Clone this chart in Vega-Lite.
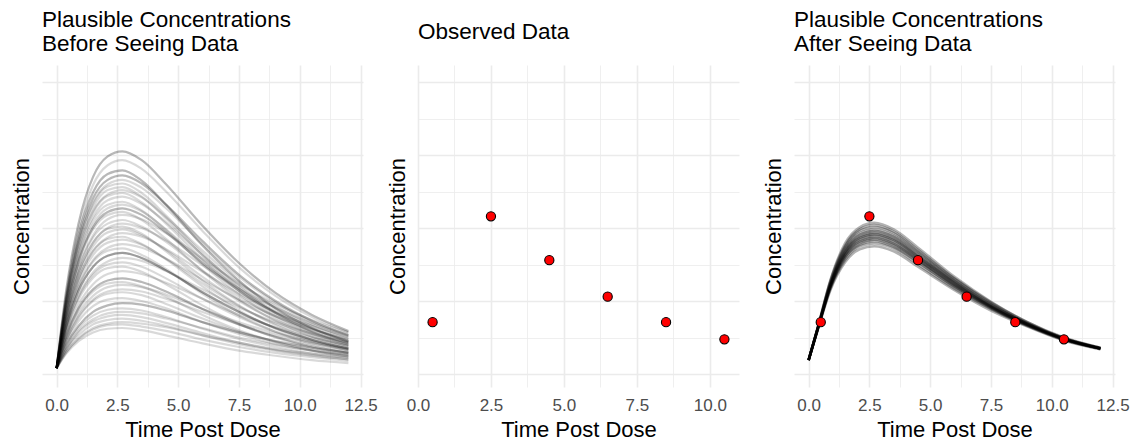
{
"$schema": "https://vega.github.io/schema/vega-lite/v6.json",
"autosize": {"type": "pad"},
"padding": {"left": 10, "top": 9, "right": 0, "bottom": 0},
"bounds": "flush",
"spacing": 55,
"config": {
  "font": "Liberation Sans",
  "view": {"stroke": null},
  "axis": {"domain": false, "ticks": false, "labelFontSize": 17, "labelColor": "#4D4D4D", "labelPadding": 10, "labelFlush": false, "labelOverlap": false, "titleFontSize": 22, "titleFontWeight": "normal", "titleColor": "#000000", "gridColor": "#EBEBEB"},
  "axisY": {"labels": false, "titlePadding": 9},
  "axisX": {"titlePadding": 6},
  "title": {"fontSize": 22.5, "fontWeight": "normal", "anchor": "start", "frame": "group", "color": "#000000", "lineHeight": 23.5}
},
"datasets": {
"prior": [
{"id":"a1","t":0,"c":0.08},{"id":"a1","t":0.4,"c":1.16},{"id":"a1","t":0.9,"c":2.06},{"id":"a1","t":1.5,"c":2.70},{"id":"a1","t":2.1,"c":2.98},{"id":"a1","t":2.7,"c":3.05},{"id":"a1","t":3.5,"c":2.93},{"id":"a1","t":4.5,"c":2.60},{"id":"a1","t":6,"c":2.03},{"id":"a1","t":7.5,"c":1.52},{"id":"a1","t":9,"c":1.11},{"id":"a1","t":10.5,"c":0.81},{"id":"a1","t":12,"c":0.59},
{"id":"a1b","t":0,"c":0.08},{"id":"a1b","t":0.4,"c":1.16},{"id":"a1b","t":0.9,"c":2.06},{"id":"a1b","t":1.5,"c":2.70},{"id":"a1b","t":2.1,"c":2.98},{"id":"a1b","t":2.7,"c":3.05},{"id":"a1b","t":3.5,"c":2.93},{"id":"a1b","t":4.5,"c":2.60},{"id":"a1b","t":6,"c":2.03},{"id":"a1b","t":7.5,"c":1.52},{"id":"a1b","t":9,"c":1.11},{"id":"a1b","t":10.5,"c":0.81},{"id":"a1b","t":12,"c":0.59},
{"id":"n1","t":0,"c":0.08},{"id":"n1","t":0.4,"c":1.11},{"id":"n1","t":0.9,"c":1.98},{"id":"n1","t":1.5,"c":2.59},{"id":"n1","t":2.1,"c":2.86},{"id":"n1","t":2.7,"c":2.93},{"id":"n1","t":3.5,"c":2.81},{"id":"n1","t":4.5,"c":2.50},{"id":"n1","t":6,"c":1.96},{"id":"n1","t":7.5,"c":1.46},{"id":"n1","t":9,"c":1.07},{"id":"n1","t":10.5,"c":0.78},{"id":"n1","t":12,"c":0.57},
{"id":"a2","t":0,"c":0.08},{"id":"a2","t":0.4,"c":1.07},{"id":"a2","t":0.9,"c":1.91},{"id":"a2","t":1.5,"c":2.49},{"id":"a2","t":2.1,"c":2.74},{"id":"a2","t":2.7,"c":2.79},{"id":"a2","t":3.5,"c":2.65},{"id":"a2","t":4.5,"c":2.32},{"id":"a2","t":6,"c":1.76},{"id":"a2","t":7.5,"c":1.28},{"id":"a2","t":9,"c":0.90},{"id":"a2","t":10.5,"c":0.63},{"id":"a2","t":12,"c":0.44},
{"id":"a2b","t":0,"c":0.08},{"id":"a2b","t":0.4,"c":1.07},{"id":"a2b","t":0.9,"c":1.91},{"id":"a2b","t":1.5,"c":2.49},{"id":"a2b","t":2.1,"c":2.74},{"id":"a2b","t":2.7,"c":2.79},{"id":"a2b","t":3.5,"c":2.65},{"id":"a2b","t":4.5,"c":2.32},{"id":"a2b","t":6,"c":1.76},{"id":"a2b","t":7.5,"c":1.28},{"id":"a2b","t":9,"c":0.90},{"id":"a2b","t":10.5,"c":0.63},{"id":"a2b","t":12,"c":0.44},
{"id":"a3","t":0,"c":0.08},{"id":"a3","t":0.4,"c":1.04},{"id":"a3","t":0.9,"c":1.84},{"id":"a3","t":1.5,"c":2.41},{"id":"a3","t":2.1,"c":2.66},{"id":"a3","t":2.7,"c":2.72},{"id":"a3","t":3.5,"c":2.61},{"id":"a3","t":4.5,"c":2.32},{"id":"a3","t":6,"c":1.82},{"id":"a3","t":7.5,"c":1.36},{"id":"a3","t":9,"c":1.00},{"id":"a3","t":10.5,"c":0.73},{"id":"a3","t":12,"c":0.53},
{"id":"a3b","t":0,"c":0.08},{"id":"a3b","t":0.4,"c":1.04},{"id":"a3b","t":0.9,"c":1.84},{"id":"a3b","t":1.5,"c":2.41},{"id":"a3b","t":2.1,"c":2.66},{"id":"a3b","t":2.7,"c":2.72},{"id":"a3b","t":3.5,"c":2.61},{"id":"a3b","t":4.5,"c":2.32},{"id":"a3b","t":6,"c":1.82},{"id":"a3b","t":7.5,"c":1.36},{"id":"a3b","t":9,"c":1.00},{"id":"a3b","t":10.5,"c":0.73},{"id":"a3b","t":12,"c":0.53},
{"id":"n2","t":0,"c":0.08},{"id":"n2","t":0.4,"c":1.01},{"id":"n2","t":0.9,"c":1.80},{"id":"n2","t":1.5,"c":2.35},{"id":"n2","t":2.1,"c":2.60},{"id":"n2","t":2.7,"c":2.66},{"id":"n2","t":3.5,"c":2.55},{"id":"n2","t":4.5,"c":2.27},{"id":"n2","t":6,"c":1.78},{"id":"n2","t":7.5,"c":1.33},{"id":"n2","t":9,"c":0.98},{"id":"n2","t":10.5,"c":0.71},{"id":"n2","t":12,"c":0.52},
{"id":"a4","t":0,"c":0.08},{"id":"a4","t":0.4,"c":1.01},{"id":"a4","t":0.9,"c":1.79},{"id":"a4","t":1.5,"c":2.33},{"id":"a4","t":2.1,"c":2.57},{"id":"a4","t":2.7,"c":2.61},{"id":"a4","t":3.5,"c":2.48},{"id":"a4","t":4.5,"c":2.17},{"id":"a4","t":6,"c":1.65},{"id":"a4","t":7.5,"c":1.20},{"id":"a4","t":9,"c":0.84},{"id":"a4","t":10.5,"c":0.59},{"id":"a4","t":12,"c":0.42},
{"id":"n3","t":0,"c":0.08},{"id":"n3","t":0.4,"c":0.99},{"id":"n3","t":0.9,"c":1.76},{"id":"n3","t":1.5,"c":2.28},{"id":"n3","t":2.1,"c":2.52},{"id":"n3","t":2.7,"c":2.56},{"id":"n3","t":3.5,"c":2.43},{"id":"n3","t":4.5,"c":2.13},{"id":"n3","t":6,"c":1.62},{"id":"n3","t":7.5,"c":1.17},{"id":"n3","t":9,"c":0.83},{"id":"n3","t":10.5,"c":0.58},{"id":"n3","t":12,"c":0.41},
{"id":"a5","t":0,"c":0.08},{"id":"a5","t":0.4,"c":0.96},{"id":"a5","t":0.9,"c":1.71},{"id":"a5","t":1.5,"c":2.23},{"id":"a5","t":2.1,"c":2.46},{"id":"a5","t":2.7,"c":2.52},{"id":"a5","t":3.5,"c":2.42},{"id":"a5","t":4.5,"c":2.15},{"id":"a5","t":6,"c":1.69},{"id":"a5","t":7.5,"c":1.26},{"id":"a5","t":9,"c":0.93},{"id":"a5","t":10.5,"c":0.68},{"id":"a5","t":12,"c":0.50},
{"id":"n4","t":0,"c":0.08},{"id":"n4","t":0.4,"c":0.96},{"id":"n4","t":0.9,"c":1.70},{"id":"n4","t":1.5,"c":2.21},{"id":"n4","t":2.1,"c":2.44},{"id":"n4","t":2.7,"c":2.48},{"id":"n4","t":3.5,"c":2.35},{"id":"n4","t":4.5,"c":2.06},{"id":"n4","t":6,"c":1.57},{"id":"n4","t":7.5,"c":1.14},{"id":"n4","t":9,"c":0.80},{"id":"n4","t":10.5,"c":0.57},{"id":"n4","t":12,"c":0.40},
{"id":"a6","t":0,"c":0.08},{"id":"a6","t":0.4,"c":0.93},{"id":"a6","t":0.9,"c":1.65},{"id":"a6","t":1.5,"c":2.15},{"id":"a6","t":2.1,"c":2.38},{"id":"a6","t":2.7,"c":2.43},{"id":"a6","t":3.5,"c":2.33},{"id":"a6","t":4.5,"c":2.08},{"id":"a6","t":6,"c":1.63},{"id":"a6","t":7.5,"c":1.22},{"id":"a6","t":9,"c":0.90},{"id":"a6","t":10.5,"c":0.66},{"id":"a6","t":12,"c":0.48},
{"id":"a7","t":0,"c":0.08},{"id":"a7","t":0.4,"c":0.92},{"id":"a7","t":0.9,"c":1.62},{"id":"a7","t":1.5,"c":2.11},{"id":"a7","t":2.1,"c":2.32},{"id":"a7","t":2.7,"c":2.36},{"id":"a7","t":3.5,"c":2.24},{"id":"a7","t":4.5,"c":1.97},{"id":"a7","t":6,"c":1.50},{"id":"a7","t":7.5,"c":1.09},{"id":"a7","t":9,"c":0.77},{"id":"a7","t":10.5,"c":0.54},{"id":"a7","t":12,"c":0.38},
{"id":"n5","t":0,"c":0.08},{"id":"n5","t":0.4,"c":0.89},{"id":"n5","t":0.9,"c":1.58},{"id":"n5","t":1.5,"c":2.05},{"id":"n5","t":2.1,"c":2.27},{"id":"n5","t":2.7,"c":2.32},{"id":"n5","t":3.5,"c":2.23},{"id":"n5","t":4.5,"c":1.98},{"id":"n5","t":6,"c":1.55},{"id":"n5","t":7.5,"c":1.17},{"id":"n5","t":9,"c":0.86},{"id":"n5","t":10.5,"c":0.63},{"id":"n5","t":12,"c":0.46},
{"id":"a8","t":0,"c":0.08},{"id":"a8","t":0.4,"c":0.87},{"id":"a8","t":0.9,"c":1.54},{"id":"a8","t":1.5,"c":2.01},{"id":"a8","t":2.1,"c":2.22},{"id":"a8","t":2.7,"c":2.27},{"id":"a8","t":3.5,"c":2.18},{"id":"a8","t":4.5,"c":1.94},{"id":"a8","t":6,"c":1.52},{"id":"a8","t":7.5,"c":1.14},{"id":"a8","t":9,"c":0.84},{"id":"a8","t":10.5,"c":0.62},{"id":"a8","t":12,"c":0.45},
{"id":"a8b","t":0,"c":0.08},{"id":"a8b","t":0.4,"c":0.87},{"id":"a8b","t":0.9,"c":1.54},{"id":"a8b","t":1.5,"c":2.01},{"id":"a8b","t":2.1,"c":2.22},{"id":"a8b","t":2.7,"c":2.27},{"id":"a8b","t":3.5,"c":2.18},{"id":"a8b","t":4.5,"c":1.94},{"id":"a8b","t":6,"c":1.52},{"id":"a8b","t":7.5,"c":1.14},{"id":"a8b","t":9,"c":0.84},{"id":"a8b","t":10.5,"c":0.62},{"id":"a8b","t":12,"c":0.45},
{"id":"n6","t":0,"c":0.08},{"id":"n6","t":0.4,"c":0.87},{"id":"n6","t":0.9,"c":1.53},{"id":"n6","t":1.5,"c":1.98},{"id":"n6","t":2.1,"c":2.18},{"id":"n6","t":2.7,"c":2.22},{"id":"n6","t":3.5,"c":2.11},{"id":"n6","t":4.5,"c":1.85},{"id":"n6","t":6,"c":1.41},{"id":"n6","t":7.5,"c":1.02},{"id":"n6","t":9,"c":0.73},{"id":"n6","t":10.5,"c":0.51},{"id":"n6","t":12,"c":0.36},
{"id":"a9","t":0,"c":0.08},{"id":"a9","t":0.4,"c":0.83},{"id":"a9","t":0.9,"c":1.46},{"id":"a9","t":1.5,"c":1.90},{"id":"a9","t":2.1,"c":2.12},{"id":"a9","t":2.7,"c":2.18},{"id":"a9","t":3.5,"c":2.12},{"id":"a9","t":4.5,"c":1.93},{"id":"a9","t":6,"c":1.58},{"id":"a9","t":7.5,"c":1.24},{"id":"a9","t":9,"c":0.96},{"id":"a9","t":10.5,"c":0.74},{"id":"a9","t":12,"c":0.57},
{"id":"a10","t":0,"c":0.08},{"id":"a10","t":0.4,"c":0.81},{"id":"a10","t":0.9,"c":1.44},{"id":"a10","t":1.5,"c":1.87},{"id":"a10","t":2.1,"c":2.06},{"id":"a10","t":2.7,"c":2.11},{"id":"a10","t":3.5,"c":2.02},{"id":"a10","t":4.5,"c":1.81},{"id":"a10","t":6,"c":1.42},{"id":"a10","t":7.5,"c":1.06},{"id":"a10","t":9,"c":0.79},{"id":"a10","t":10.5,"c":0.58},{"id":"a10","t":12,"c":0.43},
{"id":"n7","t":0,"c":0.08},{"id":"n7","t":0.4,"c":0.78},{"id":"n7","t":0.9,"c":1.38},{"id":"n7","t":1.5,"c":1.80},{"id":"n7","t":2.1,"c":2.00},{"id":"n7","t":2.7,"c":2.06},{"id":"n7","t":3.5,"c":2.00},{"id":"n7","t":4.5,"c":1.83},{"id":"n7","t":6,"c":1.49},{"id":"n7","t":7.5,"c":1.17},{"id":"n7","t":9,"c":0.91},{"id":"n7","t":10.5,"c":0.70},{"id":"n7","t":12,"c":0.54},
{"id":"a11","t":0,"c":0.08},{"id":"a11","t":0.4,"c":0.79},{"id":"a11","t":0.9,"c":1.39},{"id":"a11","t":1.5,"c":1.80},{"id":"a11","t":2.1,"c":1.99},{"id":"a11","t":2.7,"c":2.02},{"id":"a11","t":3.5,"c":1.92},{"id":"a11","t":4.5,"c":1.68},{"id":"a11","t":6,"c":1.28},{"id":"a11","t":7.5,"c":0.94},{"id":"a11","t":9,"c":0.67},{"id":"a11","t":10.5,"c":0.47},{"id":"a11","t":12,"c":0.34},
{"id":"n8","t":0,"c":0.08},{"id":"n8","t":0.4,"c":0.77},{"id":"n8","t":0.9,"c":1.35},{"id":"n8","t":1.5,"c":1.75},{"id":"n8","t":2.1,"c":1.94},{"id":"n8","t":2.7,"c":1.98},{"id":"n8","t":3.5,"c":1.90},{"id":"n8","t":4.5,"c":1.70},{"id":"n8","t":6,"c":1.33},{"id":"n8","t":7.5,"c":1.00},{"id":"n8","t":9,"c":0.74},{"id":"n8","t":10.5,"c":0.55},{"id":"n8","t":12,"c":0.40},
{"id":"a12","t":0,"c":0.08},{"id":"a12","t":0.4,"c":0.74},{"id":"a12","t":0.9,"c":1.29},{"id":"a12","t":1.5,"c":1.69},{"id":"a12","t":2.1,"c":1.87},{"id":"a12","t":2.7,"c":1.93},{"id":"a12","t":3.5,"c":1.88},{"id":"a12","t":4.5,"c":1.71},{"id":"a12","t":6,"c":1.40},{"id":"a12","t":7.5,"c":1.10},{"id":"a12","t":9,"c":0.85},{"id":"a12","t":10.5,"c":0.66},{"id":"a12","t":12,"c":0.51},
{"id":"n9","t":0,"c":0.08},{"id":"n9","t":0.4,"c":0.74},{"id":"n9","t":0.9,"c":1.30},{"id":"n9","t":1.5,"c":1.68},{"id":"n9","t":2.1,"c":1.85},{"id":"n9","t":2.7,"c":1.88},{"id":"n9","t":3.5,"c":1.78},{"id":"n9","t":4.5,"c":1.57},{"id":"n9","t":6,"c":1.20},{"id":"n9","t":7.5,"c":0.87},{"id":"n9","t":9,"c":0.62},{"id":"n9","t":10.5,"c":0.45},{"id":"n9","t":12,"c":0.32},
{"id":"a13","t":0,"c":0.08},{"id":"a13","t":0.4,"c":0.72},{"id":"a13","t":0.9,"c":1.26},{"id":"a13","t":1.5,"c":1.63},{"id":"a13","t":2.1,"c":1.80},{"id":"a13","t":2.7,"c":1.84},{"id":"a13","t":3.5,"c":1.77},{"id":"a13","t":4.5,"c":1.58},{"id":"a13","t":6,"c":1.24},{"id":"a13","t":7.5,"c":0.93},{"id":"a13","t":9,"c":0.69},{"id":"a13","t":10.5,"c":0.51},{"id":"a13","t":12,"c":0.38},
{"id":"n10","t":0,"c":0.08},{"id":"n10","t":0.4,"c":0.68},{"id":"n10","t":0.9,"c":1.20},{"id":"n10","t":1.5,"c":1.56},{"id":"n10","t":2.1,"c":1.73},{"id":"n10","t":2.7,"c":1.78},{"id":"n10","t":3.5,"c":1.73},{"id":"n10","t":4.5,"c":1.58},{"id":"n10","t":6,"c":1.29},{"id":"n10","t":7.5,"c":1.02},{"id":"n10","t":9,"c":0.79},{"id":"n10","t":10.5,"c":0.61},{"id":"n10","t":12,"c":0.48},
{"id":"n11","t":0,"c":0.08},{"id":"n11","t":0.4,"c":0.68},{"id":"n11","t":0.9,"c":1.19},{"id":"n11","t":1.5,"c":1.54},{"id":"n11","t":2.1,"c":1.69},{"id":"n11","t":2.7,"c":1.72},{"id":"n11","t":3.5,"c":1.63},{"id":"n11","t":4.5,"c":1.44},{"id":"n11","t":6,"c":1.10},{"id":"n11","t":7.5,"c":0.80},{"id":"n11","t":9,"c":0.58},{"id":"n11","t":10.5,"c":0.41},{"id":"n11","t":12,"c":0.30},
{"id":"a14","t":0,"c":0.08},{"id":"a14","t":0.4,"c":0.65},{"id":"a14","t":0.9,"c":1.14},{"id":"a14","t":1.5,"c":1.47},{"id":"a14","t":2.1,"c":1.62},{"id":"a14","t":2.7,"c":1.66},{"id":"a14","t":3.5,"c":1.59},{"id":"a14","t":4.5,"c":1.42},{"id":"a14","t":6,"c":1.12},{"id":"a14","t":7.5,"c":0.85},{"id":"a14","t":9,"c":0.63},{"id":"a14","t":10.5,"c":0.47},{"id":"a14","t":12,"c":0.35},
{"id":"a14b","t":0,"c":0.08},{"id":"a14b","t":0.4,"c":0.65},{"id":"a14b","t":0.9,"c":1.14},{"id":"a14b","t":1.5,"c":1.47},{"id":"a14b","t":2.1,"c":1.62},{"id":"a14b","t":2.7,"c":1.66},{"id":"a14b","t":3.5,"c":1.59},{"id":"a14b","t":4.5,"c":1.42},{"id":"a14b","t":6,"c":1.12},{"id":"a14b","t":7.5,"c":0.85},{"id":"a14b","t":9,"c":0.63},{"id":"a14b","t":10.5,"c":0.47},{"id":"a14b","t":12,"c":0.35},
{"id":"a14c","t":0,"c":0.08},{"id":"a14c","t":0.4,"c":0.65},{"id":"a14c","t":0.9,"c":1.14},{"id":"a14c","t":1.5,"c":1.47},{"id":"a14c","t":2.1,"c":1.62},{"id":"a14c","t":2.7,"c":1.66},{"id":"a14c","t":3.5,"c":1.59},{"id":"a14c","t":4.5,"c":1.42},{"id":"a14c","t":6,"c":1.12},{"id":"a14c","t":7.5,"c":0.85},{"id":"a14c","t":9,"c":0.63},{"id":"a14c","t":10.5,"c":0.47},{"id":"a14c","t":12,"c":0.35},
{"id":"a15","t":0,"c":0.08},{"id":"a15","t":0.4,"c":0.62},{"id":"a15","t":0.9,"c":1.07},{"id":"a15","t":1.5,"c":1.39},{"id":"a15","t":2.1,"c":1.54},{"id":"a15","t":2.7,"c":1.59},{"id":"a15","t":3.5,"c":1.55},{"id":"a15","t":4.5,"c":1.41},{"id":"a15","t":6,"c":1.16},{"id":"a15","t":7.5,"c":0.91},{"id":"a15","t":9,"c":0.71},{"id":"a15","t":10.5,"c":0.55},{"id":"a15","t":12,"c":0.43},
{"id":"n12","t":0,"c":0.08},{"id":"n12","t":0.4,"c":0.60},{"id":"n12","t":0.9,"c":1.05},{"id":"n12","t":1.5,"c":1.36},{"id":"n12","t":2.1,"c":1.50},{"id":"n12","t":2.7,"c":1.53},{"id":"n12","t":3.5,"c":1.47},{"id":"n12","t":4.5,"c":1.31},{"id":"n12","t":6,"c":1.03},{"id":"n12","t":7.5,"c":0.78},{"id":"n12","t":9,"c":0.58},{"id":"n12","t":10.5,"c":0.44},{"id":"n12","t":12,"c":0.33},
{"id":"a16","t":0,"c":0.08},{"id":"a16","t":0.4,"c":0.59},{"id":"a16","t":0.9,"c":1.02},{"id":"a16","t":1.5,"c":1.32},{"id":"a16","t":2.1,"c":1.45},{"id":"a16","t":2.7,"c":1.47},{"id":"a16","t":3.5,"c":1.40},{"id":"a16","t":4.5,"c":1.23},{"id":"a16","t":6,"c":0.94},{"id":"a16","t":7.5,"c":0.69},{"id":"a16","t":9,"c":0.50},{"id":"a16","t":10.5,"c":0.36},{"id":"a16","t":12,"c":0.27},
{"id":"n13","t":0,"c":0.08},{"id":"n13","t":0.4,"c":0.55},{"id":"n13","t":0.9,"c":0.95},{"id":"n13","t":1.5,"c":1.23},{"id":"n13","t":2.1,"c":1.37},{"id":"n13","t":2.7,"c":1.41},{"id":"n13","t":3.5,"c":1.37},{"id":"n13","t":4.5,"c":1.25},{"id":"n13","t":6,"c":1.03},{"id":"n13","t":7.5,"c":0.81},{"id":"n13","t":9,"c":0.64},{"id":"n13","t":10.5,"c":0.50},{"id":"n13","t":12,"c":0.39},
{"id":"a17","t":0,"c":0.08},{"id":"a17","t":0.4,"c":0.53},{"id":"a17","t":0.9,"c":0.90},{"id":"a17","t":1.5,"c":1.16},{"id":"a17","t":2.1,"c":1.28},{"id":"a17","t":2.7,"c":1.31},{"id":"a17","t":3.5,"c":1.26},{"id":"a17","t":4.5,"c":1.13},{"id":"a17","t":6,"c":0.89},{"id":"a17","t":7.5,"c":0.68},{"id":"a17","t":9,"c":0.51},{"id":"a17","t":10.5,"c":0.38},{"id":"a17","t":12,"c":0.29},
{"id":"a17b","t":0,"c":0.08},{"id":"a17b","t":0.4,"c":0.53},{"id":"a17b","t":0.9,"c":0.90},{"id":"a17b","t":1.5,"c":1.16},{"id":"a17b","t":2.1,"c":1.28},{"id":"a17b","t":2.7,"c":1.31},{"id":"a17b","t":3.5,"c":1.26},{"id":"a17b","t":4.5,"c":1.13},{"id":"a17b","t":6,"c":0.89},{"id":"a17b","t":7.5,"c":0.68},{"id":"a17b","t":9,"c":0.51},{"id":"a17b","t":10.5,"c":0.38},{"id":"a17b","t":12,"c":0.29},
{"id":"n14","t":0,"c":0.08},{"id":"n14","t":0.4,"c":0.51},{"id":"n14","t":0.9,"c":0.88},{"id":"n14","t":1.5,"c":1.13},{"id":"n14","t":2.1,"c":1.24},{"id":"n14","t":2.7,"c":1.26},{"id":"n14","t":3.5,"c":1.20},{"id":"n14","t":4.5,"c":1.06},{"id":"n14","t":6,"c":0.81},{"id":"n14","t":7.5,"c":0.60},{"id":"n14","t":9,"c":0.44},{"id":"n14","t":10.5,"c":0.32},{"id":"n14","t":12,"c":0.24},
{"id":"a18","t":0,"c":0.08},{"id":"a18","t":0.4,"c":0.48},{"id":"a18","t":0.9,"c":0.83},{"id":"a18","t":1.5,"c":1.07},{"id":"a18","t":2.1,"c":1.19},{"id":"a18","t":2.7,"c":1.22},{"id":"a18","t":3.5,"c":1.19},{"id":"a18","t":4.5,"c":1.09},{"id":"a18","t":6,"c":0.89},{"id":"a18","t":7.5,"c":0.71},{"id":"a18","t":9,"c":0.56},{"id":"a18","t":10.5,"c":0.44},{"id":"a18","t":12,"c":0.35},
{"id":"n15","t":0,"c":0.08},{"id":"n15","t":0.4,"c":0.46},{"id":"n15","t":0.9,"c":0.79},{"id":"n15","t":1.5,"c":1.02},{"id":"n15","t":2.1,"c":1.13},{"id":"n15","t":2.7,"c":1.16},{"id":"n15","t":3.5,"c":1.13},{"id":"n15","t":4.5,"c":1.03},{"id":"n15","t":6,"c":0.85},{"id":"n15","t":7.5,"c":0.68},{"id":"n15","t":9,"c":0.53},{"id":"n15","t":10.5,"c":0.42},{"id":"n15","t":12,"c":0.33},
{"id":"a19","t":0,"c":0.08},{"id":"a19","t":0.4,"c":0.46},{"id":"a19","t":0.9,"c":0.77},{"id":"a19","t":1.5,"c":1.00},{"id":"a19","t":2.1,"c":1.10},{"id":"a19","t":2.7,"c":1.12},{"id":"a19","t":3.5,"c":1.08},{"id":"a19","t":4.5,"c":0.96},{"id":"a19","t":6,"c":0.76},{"id":"a19","t":7.5,"c":0.58},{"id":"a19","t":9,"c":0.44},{"id":"a19","t":10.5,"c":0.33},{"id":"a19","t":12,"c":0.26},
{"id":"n16","t":0,"c":0.08},{"id":"n16","t":0.4,"c":0.43},{"id":"n16","t":0.9,"c":0.72},{"id":"n16","t":1.5,"c":0.93},{"id":"n16","t":2.1,"c":1.02},{"id":"n16","t":2.7,"c":1.04},{"id":"n16","t":3.5,"c":1.00},{"id":"n16","t":4.5,"c":0.90},{"id":"n16","t":6,"c":0.71},{"id":"n16","t":7.5,"c":0.55},{"id":"n16","t":9,"c":0.41},{"id":"n16","t":10.5,"c":0.32},{"id":"n16","t":12,"c":0.24},
{"id":"a20","t":0,"c":0.08},{"id":"a20","t":0.4,"c":0.40},{"id":"a20","t":0.9,"c":0.66},{"id":"a20","t":1.5,"c":0.85},{"id":"a20","t":2.1,"c":0.94},{"id":"a20","t":2.7,"c":0.97},{"id":"a20","t":3.5,"c":0.95},{"id":"a20","t":4.5,"c":0.87},{"id":"a20","t":6,"c":0.71},{"id":"a20","t":7.5,"c":0.57},{"id":"a20","t":9,"c":0.45},{"id":"a20","t":10.5,"c":0.36},{"id":"a20","t":12,"c":0.29},
{"id":"a20b","t":0,"c":0.08},{"id":"a20b","t":0.4,"c":0.40},{"id":"a20b","t":0.9,"c":0.66},{"id":"a20b","t":1.5,"c":0.85},{"id":"a20b","t":2.1,"c":0.94},{"id":"a20b","t":2.7,"c":0.97},{"id":"a20b","t":3.5,"c":0.95},{"id":"a20b","t":4.5,"c":0.87},{"id":"a20b","t":6,"c":0.71},{"id":"a20b","t":7.5,"c":0.57},{"id":"a20b","t":9,"c":0.45},{"id":"a20b","t":10.5,"c":0.36},{"id":"a20b","t":12,"c":0.29},
{"id":"a21","t":0,"c":0.08},{"id":"a21","t":0.4,"c":0.38},{"id":"a21","t":0.9,"c":0.63},{"id":"a21","t":1.5,"c":0.80},{"id":"a21","t":2.1,"c":0.88},{"id":"a21","t":2.7,"c":0.90},{"id":"a21","t":3.5,"c":0.87},{"id":"a21","t":4.5,"c":0.78},{"id":"a21","t":6,"c":0.62},{"id":"a21","t":7.5,"c":0.48},{"id":"a21","t":9,"c":0.37},{"id":"a21","t":10.5,"c":0.28},{"id":"a21","t":12,"c":0.22},
{"id":"n17","t":0,"c":0.08},{"id":"n17","t":0.4,"c":0.35},{"id":"n17","t":0.9,"c":0.59},{"id":"n17","t":1.5,"c":0.75},{"id":"n17","t":2.1,"c":0.83},{"id":"n17","t":2.7,"c":0.85},{"id":"n17","t":3.5,"c":0.83},{"id":"n17","t":4.5,"c":0.76},{"id":"n17","t":6,"c":0.63},{"id":"n17","t":7.5,"c":0.50},{"id":"n17","t":9,"c":0.40},{"id":"n17","t":10.5,"c":0.32},{"id":"n17","t":12,"c":0.26},
{"id":"a22","t":0,"c":0.08},{"id":"a22","t":0.4,"c":0.34},{"id":"a22","t":0.9,"c":0.57},{"id":"a22","t":1.5,"c":0.72},{"id":"a22","t":2.1,"c":0.79},{"id":"a22","t":2.7,"c":0.81},{"id":"a22","t":3.5,"c":0.78},{"id":"a22","t":4.5,"c":0.70},{"id":"a22","t":6,"c":0.56},{"id":"a22","t":7.5,"c":0.43},{"id":"a22","t":9,"c":0.33},{"id":"a22","t":10.5,"c":0.26},{"id":"a22","t":12,"c":0.20},
{"id":"n18","t":0,"c":0.08},{"id":"n18","t":0.4,"c":0.33},{"id":"n18","t":0.9,"c":0.53},{"id":"n18","t":1.5,"c":0.68},{"id":"n18","t":2.1,"c":0.74},{"id":"n18","t":2.7,"c":0.76},{"id":"n18","t":3.5,"c":0.73},{"id":"n18","t":4.5,"c":0.66},{"id":"n18","t":6,"c":0.53},{"id":"n18","t":7.5,"c":0.41},{"id":"n18","t":9,"c":0.32},{"id":"n18","t":10.5,"c":0.25},{"id":"n18","t":12,"c":0.20},
{"id":"a23","t":0,"c":0.08},{"id":"a23","t":0.4,"c":0.30},{"id":"a23","t":0.9,"c":0.49},{"id":"a23","t":1.5,"c":0.63},{"id":"a23","t":2.1,"c":0.69},{"id":"a23","t":2.7,"c":0.71},{"id":"a23","t":3.5,"c":0.69},{"id":"a23","t":4.5,"c":0.64},{"id":"a23","t":6,"c":0.53},{"id":"a23","t":7.5,"c":0.43},{"id":"a23","t":9,"c":0.34},{"id":"a23","t":10.5,"c":0.28},{"id":"a23","t":12,"c":0.23},
{"id":"n19","t":0,"c":0.08},{"id":"n19","t":0.4,"c":0.30},{"id":"n19","t":0.9,"c":0.48},{"id":"n19","t":1.5,"c":0.61},{"id":"n19","t":2.1,"c":0.67},{"id":"n19","t":2.7,"c":0.68},{"id":"n19","t":3.5,"c":0.65},{"id":"n19","t":4.5,"c":0.59},{"id":"n19","t":6,"c":0.47},{"id":"n19","t":7.5,"c":0.37},{"id":"n19","t":9,"c":0.29},{"id":"n19","t":10.5,"c":0.23},{"id":"n19","t":12,"c":0.18},
{"id":"a24","t":0,"c":0.08},{"id":"a24","t":0.4,"c":0.28},{"id":"a24","t":0.9,"c":0.45},{"id":"a24","t":1.5,"c":0.57},{"id":"a24","t":2.1,"c":0.62},{"id":"a24","t":2.7,"c":0.63},{"id":"a24","t":3.5,"c":0.60},{"id":"a24","t":4.5,"c":0.53},{"id":"a24","t":6,"c":0.42},{"id":"a24","t":7.5,"c":0.32},{"id":"a24","t":9,"c":0.25},{"id":"a24","t":10.5,"c":0.19},{"id":"a24","t":12,"c":0.15}
],
"posterior": [
{"id":"b1","t":0,"c":0.19},{"id":"b1","t":0.4,"c":0.63},{"id":"b1","t":0.9,"c":1.15},{"id":"b1","t":1.5,"c":1.53},{"id":"b1","t":2.1,"c":1.71},{"id":"b1","t":2.7,"c":1.75},{"id":"b1","t":3.5,"c":1.68},{"id":"b1","t":4.5,"c":1.47},{"id":"b1","t":6,"c":1.15},{"id":"b1","t":7.5,"c":0.87},{"id":"b1","t":9,"c":0.65},{"id":"b1","t":10.5,"c":0.46},{"id":"b1","t":12,"c":0.34},
{"id":"b2","t":0,"c":0.19},{"id":"b2","t":0.4,"c":0.64},{"id":"b2","t":0.9,"c":1.17},{"id":"b2","t":1.5,"c":1.56},{"id":"b2","t":2.1,"c":1.75},{"id":"b2","t":2.7,"c":1.79},{"id":"b2","t":3.5,"c":1.72},{"id":"b2","t":4.5,"c":1.50},{"id":"b2","t":6,"c":1.17},{"id":"b2","t":7.5,"c":0.89},{"id":"b2","t":9,"c":0.66},{"id":"b2","t":10.5,"c":0.47},{"id":"b2","t":12,"c":0.34},
{"id":"b3","t":0,"c":0.19},{"id":"b3","t":0.4,"c":0.64},{"id":"b3","t":0.9,"c":1.18},{"id":"b3","t":1.5,"c":1.59},{"id":"b3","t":2.1,"c":1.77},{"id":"b3","t":2.7,"c":1.82},{"id":"b3","t":3.5,"c":1.74},{"id":"b3","t":4.5,"c":1.53},{"id":"b3","t":6,"c":1.19},{"id":"b3","t":7.5,"c":0.90},{"id":"b3","t":9,"c":0.66},{"id":"b3","t":10.5,"c":0.47},{"id":"b3","t":12,"c":0.35},
{"id":"b4","t":0,"c":0.19},{"id":"b4","t":0.4,"c":0.64},{"id":"b4","t":0.9,"c":1.19},{"id":"b4","t":1.5,"c":1.60},{"id":"b4","t":2.1,"c":1.79},{"id":"b4","t":2.7,"c":1.84},{"id":"b4","t":3.5,"c":1.76},{"id":"b4","t":4.5,"c":1.54},{"id":"b4","t":6,"c":1.20},{"id":"b4","t":7.5,"c":0.91},{"id":"b4","t":9,"c":0.67},{"id":"b4","t":10.5,"c":0.47},{"id":"b4","t":12,"c":0.35},
{"id":"b5","t":0,"c":0.19},{"id":"b5","t":0.4,"c":0.65},{"id":"b5","t":0.9,"c":1.20},{"id":"b5","t":1.5,"c":1.62},{"id":"b5","t":2.1,"c":1.81},{"id":"b5","t":2.7,"c":1.86},{"id":"b5","t":3.5,"c":1.78},{"id":"b5","t":4.5,"c":1.56},{"id":"b5","t":6,"c":1.21},{"id":"b5","t":7.5,"c":0.91},{"id":"b5","t":9,"c":0.67},{"id":"b5","t":10.5,"c":0.48},{"id":"b5","t":12,"c":0.35},
{"id":"b6","t":0,"c":0.19},{"id":"b6","t":0.4,"c":0.65},{"id":"b6","t":0.9,"c":1.20},{"id":"b6","t":1.5,"c":1.63},{"id":"b6","t":2.1,"c":1.82},{"id":"b6","t":2.7,"c":1.87},{"id":"b6","t":3.5,"c":1.79},{"id":"b6","t":4.5,"c":1.57},{"id":"b6","t":6,"c":1.22},{"id":"b6","t":7.5,"c":0.92},{"id":"b6","t":9,"c":0.67},{"id":"b6","t":10.5,"c":0.48},{"id":"b6","t":12,"c":0.35},
{"id":"b7","t":0,"c":0.19},{"id":"b7","t":0.4,"c":0.65},{"id":"b7","t":0.9,"c":1.21},{"id":"b7","t":1.5,"c":1.64},{"id":"b7","t":2.1,"c":1.84},{"id":"b7","t":2.7,"c":1.89},{"id":"b7","t":3.5,"c":1.81},{"id":"b7","t":4.5,"c":1.58},{"id":"b7","t":6,"c":1.23},{"id":"b7","t":7.5,"c":0.92},{"id":"b7","t":9,"c":0.68},{"id":"b7","t":10.5,"c":0.48},{"id":"b7","t":12,"c":0.35},
{"id":"b8","t":0,"c":0.19},{"id":"b8","t":0.4,"c":0.65},{"id":"b8","t":0.9,"c":1.22},{"id":"b8","t":1.5,"c":1.66},{"id":"b8","t":2.1,"c":1.86},{"id":"b8","t":2.7,"c":1.91},{"id":"b8","t":3.5,"c":1.83},{"id":"b8","t":4.5,"c":1.60},{"id":"b8","t":6,"c":1.24},{"id":"b8","t":7.5,"c":0.93},{"id":"b8","t":9,"c":0.68},{"id":"b8","t":10.5,"c":0.48},{"id":"b8","t":12,"c":0.35},
{"id":"b9","t":0,"c":0.19},{"id":"b9","t":0.4,"c":0.65},{"id":"b9","t":0.9,"c":1.22},{"id":"b9","t":1.5,"c":1.67},{"id":"b9","t":2.1,"c":1.87},{"id":"b9","t":2.7,"c":1.92},{"id":"b9","t":3.5,"c":1.84},{"id":"b9","t":4.5,"c":1.61},{"id":"b9","t":6,"c":1.25},{"id":"b9","t":7.5,"c":0.93},{"id":"b9","t":9,"c":0.68},{"id":"b9","t":10.5,"c":0.48},{"id":"b9","t":12,"c":0.35},
{"id":"b10","t":0,"c":0.19},{"id":"b10","t":0.4,"c":0.65},{"id":"b10","t":0.9,"c":1.23},{"id":"b10","t":1.5,"c":1.68},{"id":"b10","t":2.1,"c":1.89},{"id":"b10","t":2.7,"c":1.94},{"id":"b10","t":3.5,"c":1.86},{"id":"b10","t":4.5,"c":1.62},{"id":"b10","t":6,"c":1.26},{"id":"b10","t":7.5,"c":0.94},{"id":"b10","t":9,"c":0.69},{"id":"b10","t":10.5,"c":0.48},{"id":"b10","t":12,"c":0.35},
{"id":"b11","t":0,"c":0.19},{"id":"b11","t":0.4,"c":0.66},{"id":"b11","t":0.9,"c":1.24},{"id":"b11","t":1.5,"c":1.70},{"id":"b11","t":2.1,"c":1.91},{"id":"b11","t":2.7,"c":1.96},{"id":"b11","t":3.5,"c":1.88},{"id":"b11","t":4.5,"c":1.64},{"id":"b11","t":6,"c":1.27},{"id":"b11","t":7.5,"c":0.95},{"id":"b11","t":9,"c":0.69},{"id":"b11","t":10.5,"c":0.49},{"id":"b11","t":12,"c":0.35},
{"id":"b12","t":0,"c":0.19},{"id":"b12","t":0.4,"c":0.66},{"id":"b12","t":0.9,"c":1.25},{"id":"b12","t":1.5,"c":1.72},{"id":"b12","t":2.1,"c":1.93},{"id":"b12","t":2.7,"c":1.98},{"id":"b12","t":3.5,"c":1.90},{"id":"b12","t":4.5,"c":1.66},{"id":"b12","t":6,"c":1.28},{"id":"b12","t":7.5,"c":0.95},{"id":"b12","t":9,"c":0.69},{"id":"b12","t":10.5,"c":0.49},{"id":"b12","t":12,"c":0.35},
{"id":"b13","t":0,"c":0.19},{"id":"b13","t":0.4,"c":0.66},{"id":"b13","t":0.9,"c":1.27},{"id":"b13","t":1.5,"c":1.74},{"id":"b13","t":2.1,"c":1.96},{"id":"b13","t":2.7,"c":2.01},{"id":"b13","t":3.5,"c":1.93},{"id":"b13","t":4.5,"c":1.68},{"id":"b13","t":6,"c":1.30},{"id":"b13","t":7.5,"c":0.97},{"id":"b13","t":9,"c":0.70},{"id":"b13","t":10.5,"c":0.49},{"id":"b13","t":12,"c":0.36},
{"id":"b14","t":0,"c":0.19},{"id":"b14","t":0.4,"c":0.66},{"id":"b14","t":0.9,"c":1.28},{"id":"b14","t":1.5,"c":1.76},{"id":"b14","t":2.1,"c":1.98},{"id":"b14","t":2.7,"c":2.04},{"id":"b14","t":3.5,"c":1.95},{"id":"b14","t":4.5,"c":1.70},{"id":"b14","t":6,"c":1.31},{"id":"b14","t":7.5,"c":0.98},{"id":"b14","t":9,"c":0.71},{"id":"b14","t":10.5,"c":0.49},{"id":"b14","t":12,"c":0.36},
{"id":"b15","t":0,"c":0.19},{"id":"b15","t":0.4,"c":0.67},{"id":"b15","t":0.9,"c":1.29},{"id":"b15","t":1.5,"c":1.79},{"id":"b15","t":2.1,"c":2.01},{"id":"b15","t":2.7,"c":2.07},{"id":"b15","t":3.5,"c":1.98},{"id":"b15","t":4.5,"c":1.73},{"id":"b15","t":6,"c":1.33},{"id":"b15","t":7.5,"c":0.99},{"id":"b15","t":9,"c":0.71},{"id":"b15","t":10.5,"c":0.50},{"id":"b15","t":12,"c":0.36}
],
"observed": [
{"t":0.5,"c":0.71},{"t":2.5,"c":2.16},{"t":4.5,"c":1.56},{"t":6.5,"c":1.06},{"t":8.5,"c":0.71},{"t":10.5,"c":0.475}
]
},
"hconcat": [
{
  "width": 321, "height": 322,
  "title": {"text": ["Plausible Concentrations", "Before Seeing Data"], "offset": 10},
  "data": {"name": "prior"},
  "mark": {"type": "line", "color": "#000000", "opacity": 0.15, "strokeWidth": 2.2, "interpolate": "monotone"},
  "encoding": {
    "x": {"field": "t", "type": "quantitative", "scale": {"domain": [-0.6, 12.6], "nice": false, "zero": false},
          "axis": {"title": "Time Post Dose", "values": [0,1.25,2.5,3.75,5,6.25,7.5,8.75,10,11.25,12.5],
                   "labelExpr": "datum.value % 2.5 === 0 ? format(datum.value, '.1f') : ''",
                   "gridWidth": {"condition": {"test": "datum.value % 2.5 === 0", "value": 1.6}, "value": 0.8}}},
    "y": {"field": "c", "type": "quantitative", "scale": {"domain": [-0.178, 4.233], "nice": false, "zero": false},
          "axis": {"title": "Concentration", "values": [0,0.5,1,1.5,2,2.5,3,3.5,4],
                   "gridWidth": {"condition": {"test": "datum.value % 1 === 0", "value": 1.6}, "value": 0.8}}},
    "detail": {"field": "id", "type": "nominal"}
  }
},
{
  "width": 321, "height": 322,
  "title": {"text": "Observed Data", "offset": 22},
  "data": {"name": "observed"},
  "mark": {"type": "point", "shape": "circle", "filled": true, "fill": "#FF0000", "stroke": "#000000", "strokeWidth": 1.1, "opacity": 1, "size": 85},
  "encoding": {
    "x": {"field": "t", "type": "quantitative", "scale": {"domain": [0, 11], "nice": false, "zero": false},
          "axis": {"title": "Time Post Dose", "values": [0,1.25,2.5,3.75,5,6.25,7.5,8.75,10],
                   "labelExpr": "datum.value % 2.5 === 0 ? format(datum.value, '.1f') : ''",
                   "gridWidth": {"condition": {"test": "datum.value % 2.5 === 0", "value": 1.6}, "value": 0.8}}},
    "y": {"field": "c", "type": "quantitative", "scale": {"domain": [-0.178, 4.233], "nice": false, "zero": false},
          "axis": {"title": "Concentration", "values": [0,0.5,1,1.5,2,2.5,3,3.5,4],
                   "gridWidth": {"condition": {"test": "datum.value % 1 === 0", "value": 1.6}, "value": 0.8}}}
  }
},
{
  "width": 321, "height": 322,
  "title": {"text": ["Plausible Concentrations", "After Seeing Data"], "offset": 10},
  "encoding": {
    "x": {"field": "t", "type": "quantitative", "scale": {"domain": [-0.6, 12.6], "nice": false, "zero": false},
          "axis": {"title": "Time Post Dose", "values": [0,1.25,2.5,3.75,5,6.25,7.5,8.75,10,11.25,12.5],
                   "labelExpr": "datum.value % 2.5 === 0 ? format(datum.value, '.1f') : ''",
                   "gridWidth": {"condition": {"test": "datum.value % 2.5 === 0", "value": 1.6}, "value": 0.8}}},
    "y": {"field": "c", "type": "quantitative", "scale": {"domain": [-0.178, 4.233], "nice": false, "zero": false},
          "axis": {"title": "Concentration", "values": [0,0.5,1,1.5,2,2.5,3,3.5,4],
                   "gridWidth": {"condition": {"test": "datum.value % 1 === 0", "value": 1.6}, "value": 0.8}}}
  },
  "layer": [
    {
      "data": {"name": "posterior"},
      "mark": {"type": "line", "color": "#000000", "opacity": 0.3, "strokeWidth": 2.6, "interpolate": "monotone"},
      "encoding": {"detail": {"field": "id", "type": "nominal"}}
    },
    {
      "data": {"name": "observed"},
      "mark": {"type": "point", "shape": "circle", "filled": true, "fill": "#FF0000", "stroke": "#000000", "strokeWidth": 1.1, "opacity": 1, "size": 85}
    }
  ]
}
]
}
